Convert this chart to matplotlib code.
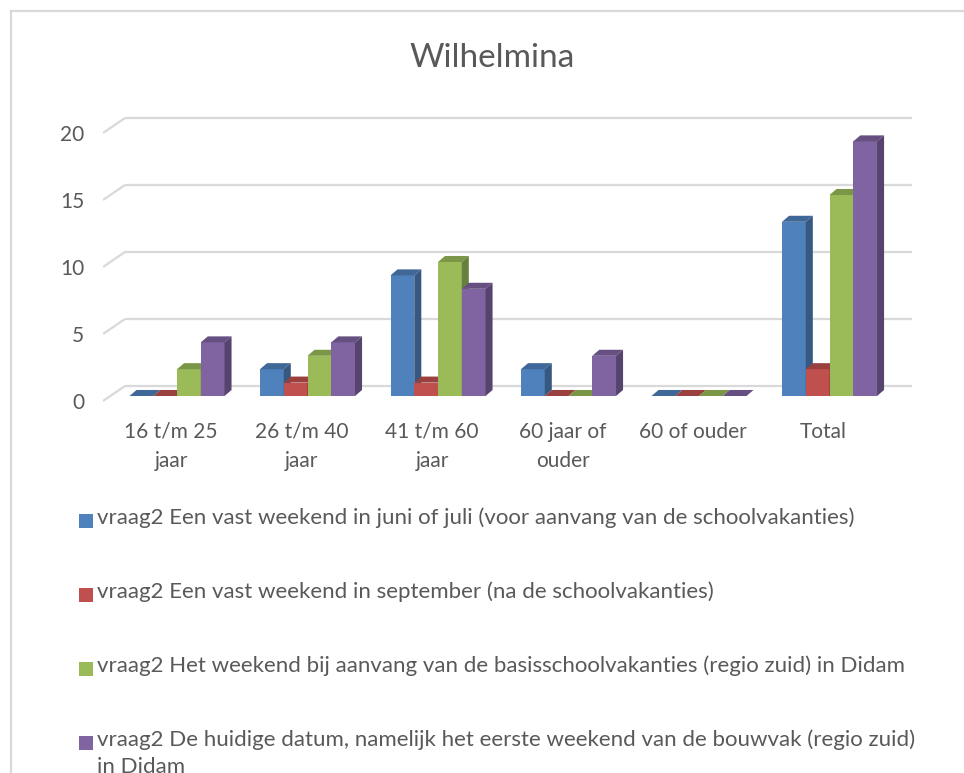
import numpy as np
import matplotlib
matplotlib.use("Agg")
import matplotlib.pyplot as plt
from matplotlib.patches import Polygon, Rectangle
from matplotlib.lines import Line2D
from matplotlib.colors import to_rgb

plt.rcParams['font.family'] = ['Lato', 'DejaVu Sans']

title = "Wilhelmina"
categories = ["16 t/m 25\njaar", "26 t/m 40\njaar", "41 t/m 60\njaar",
              "60 jaar of\nouder", "60 of ouder", "Total"]
series_names = [
    "vraag2 Een vast weekend in juni of juli (voor aanvang van de schoolvakanties)",
    "vraag2 Een vast weekend in september (na de schoolvakanties)",
    "vraag2 Het weekend bij aanvang van de basisschoolvakanties (regio zuid) in Didam",
    "vraag2 De huidige datum, namelijk het eerste weekend van de bouwvak (regio zuid)\nin Didam",
]
juni_juli = [0, 2, 9, 2, 0, 13]
september = [0, 1, 1, 0, 0, 2]
basisschool = [2, 3, 10, 0, 0, 15]
bouwvak = [4, 4, 8, 3, 0, 19]
yticks = [0, 5, 10, 15, 20]

series = [juni_juli, september, basisschool, bouwvak]
colors = ["#4F81BD", "#C0504D", "#9BBB59", "#8064A2"]
txt = "#595959"
grid = "#D9D9D9"

W, H = 964, 773
fig = plt.figure(figsize=(W / 100, H / 100), dpi=100)

# chart border (cut off at right / bottom)
fig.add_artist(Line2D([11 / W, 11 / W], [0, 1 - 11 / H], transform=fig.transFigure, color=grid, lw=1.6))
fig.add_artist(Line2D([11 / W, 1], [1 - 11 / H, 1 - 11 / H], transform=fig.transFigure, color=grid, lw=1.6))

fig.text(492 / W, 1 - 58 / H, title, ha="center", va="center", fontsize=24, color=txt)

ax = fig.add_axes([103 / W, (H - 410) / H, 809 / W, 310 / H])
ax.set_xlim(-0.567, 5.632)
ax.set_ylim(-1.045, 22.09)
for s in ax.spines.values():
    s.set_visible(False)

# 3d look: offsets of back wall and bar depth (x in category units, y in value units)
front_y = -0.373
back_y = 0.75
back_dx = 0.169
ddx, ddy = 0.054, 0.45

for g in yticks:
    ax.plot([-0.567, -0.567 + back_dx], [g + front_y, g + back_y], color=grid, lw=1.6, zorder=1,
            solid_capstyle="butt")
    ax.plot([-0.567 + back_dx, 5.632], [g + back_y, g + back_y], color=grid, lw=1.6, zorder=1,
            solid_capstyle="butt")

w = 0.182
x = np.arange(len(categories))


def shade(c, f):
    r, g_, b = to_rgb(c)
    return (r * f, g_ * f, b * f)


for k, vals in enumerate(series):
    xs = x + (k - 1.5) * w
    ax.bar(xs, vals, width=w, color=colors[k], zorder=3 + k, linewidth=0)
    for xc, v in zip(xs, vals):
        l, r = xc - w / 2, xc + w / 2
        ax.add_patch(Polygon([(l, v), (l + ddx, v + ddy), (r + ddx, v + ddy), (r, v)],
                             closed=True, facecolor=shade(colors[k], 0.8), lw=0, zorder=3 + k))
        ax.add_patch(Polygon([(r, 0), (r + ddx, ddy), (r + ddx, v + ddy), (r, v)],
                             closed=True, facecolor=shade(colors[k], 0.68), lw=0, zorder=3 + k))

ax.set_yticks([g + front_y for g in yticks])
ax.set_yticklabels([str(g) for g in yticks], fontsize=15, color=txt)
ax.set_xticks(x - 0.046)
ax.set_xticklabels(categories, fontsize=15, color=txt, linespacing=1.55)
ax.tick_params(axis="y", length=0, pad=13.5)
ax.tick_params(axis="x", length=0, pad=8.5)

# legend
rows = [521, 595, 669, 743]
for k, name in enumerate(series_names):
    fig.add_artist(Rectangle((79 / W, 1 - (rows[k] + 7) / H), 14 / W, 14 / H,
                             transform=fig.transFigure, facecolor=colors[k], lw=0))
    fig.text(97 / W, 1 - (rows[k] - 14) / H, name, ha="left", va="top", fontsize=16,
             color=txt, linespacing=1.45)

fig.savefig("out.png", dpi=100)
